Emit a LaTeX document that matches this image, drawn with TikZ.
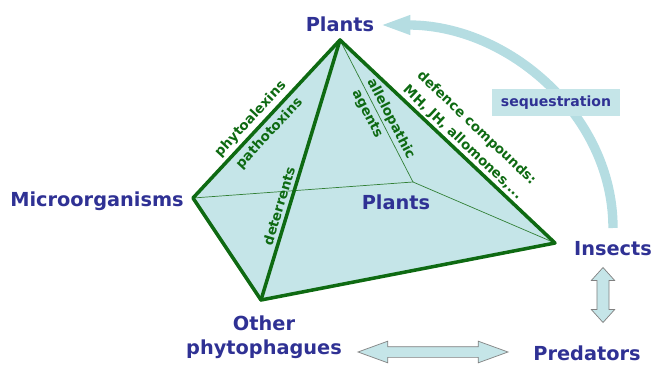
\documentclass[tikz,border=0pt]{standalone}
\usepackage{fontspec}
\setmainfont{DejaVu Sans}
\usetikzlibrary{positioning, arrows.meta, shapes.arrows}
\definecolor{leaf}{HTML}{0E6A12}
\definecolor{ink}{HTML}{2F3194}
\definecolor{face}{HTML}{C5E5E8}
\definecolor{flow}{HTML}{B5DDE2}

\begin{document}
\begin{tikzpicture}[x=0.03cm, y=-0.03cm,
  taxon/.style={text=ink, font=\bfseries\fontsize{16.5}{20.4}\selectfont,
                align=center, inner sep=0pt},
  cue/.style={text=leaf, font=\bfseries\fontsize{11.5}{17}\selectfont,
              align=center, inner sep=1.5pt},
  rim/.style={draw=leaf, line width=3pt, line join=round, line cap=round},
  hidden/.style={draw=leaf!85, line width=0.6pt},
  tag/.style={fill=face, text=ink, font=\bfseries\fontsize{12}{14}\selectfont,
              minimum width=3.81cm, minimum height=0.81cm},
  link/.style={double arrow, draw=gray, fill=face, line width=0.6pt}]
  \useasboundingbox (0,0) rectangle (659,367);
  % corners of the pyramid
  \coordinate (apex) at (340,40);
  \coordinate (micro) at (193,198);
  \coordinate (other) at (261,300);
  \coordinate (insects) at (555,243);
  \coordinate (back) at (413,182);
  % sequestration flow from insects back to plants
  \coordinate (lift) at (613,228);
  \draw[flow, line width=8pt, -{Triangle[length=26pt, width=15pt]}]
    (lift) arc[start angle=0, end angle=-90, x radius=233, y radius=203];
  \node[tag] (seq) at (556,103) {sequestration};
  % faces and edges
  \fill[face] (micro) -- (apex) -- (insects) -- (other) -- cycle;
  \draw[hidden] (apex) -- (back);
  \draw[hidden] (micro) -- (back);
  \draw[hidden] (back) -- (insects);
  \draw[rim] (micro) -- (apex) -- (insects) -- (other) -- cycle;
  \draw[rim] (apex) -- (other);
  % chemical cues along the edges
  \path (micro) -- (apex) node[cue, pos=.45, above=2.5pt, sloped] {phytoalexins};
  \path (micro) -- (apex) node[cue, pos=.46, below=3pt, sloped] {pathotoxins};
  \path (other) -- (apex) node[cue, pos=.35, above=2.5pt, sloped] {deterrents};
  \path (apex) -- (back) node[cue, pos=.585, above=0.5pt, sloped] {allelopathic};
  \path (apex) -- (back) node[cue, pos=.49, below=1.5pt, sloped] {agents};
  \path (apex) -- (insects) node[cue, pos=.54, above=1pt, sloped]
    {defence compounds:\\MH, JH, allomones,...};
  % organisms
  \node[taxon, anchor=base] (plants) at (340,32) {Plants};
  \node[taxon, anchor=base] (microbes) at (97,207) {Microorganisms};
  \node[taxon, anchor=base] (host) at (396,210) {Plants};
  \node[taxon, anchor=base] (insect) at (613,255) {Insects};
  \node[taxon, anchor=base] (pred) at (587,360) {Predators};
  \node[taxon, anchor=north] (phyto) at (264,316) {Other\\phytophagues};
  % exchanges between the trophic levels
  \node[link, inner sep=0.15cm, minimum height=4.5cm,
        double arrow head extend=0.165cm, double arrow tip angle=40] (swap) at (433,352) {};
  \node[link, rotate=90, inner sep=0.17cm, minimum height=1.65cm,
        double arrow head extend=0.17cm, double arrow tip angle=84] (feed) at (603,295) {};
\end{tikzpicture}
\end{document}
